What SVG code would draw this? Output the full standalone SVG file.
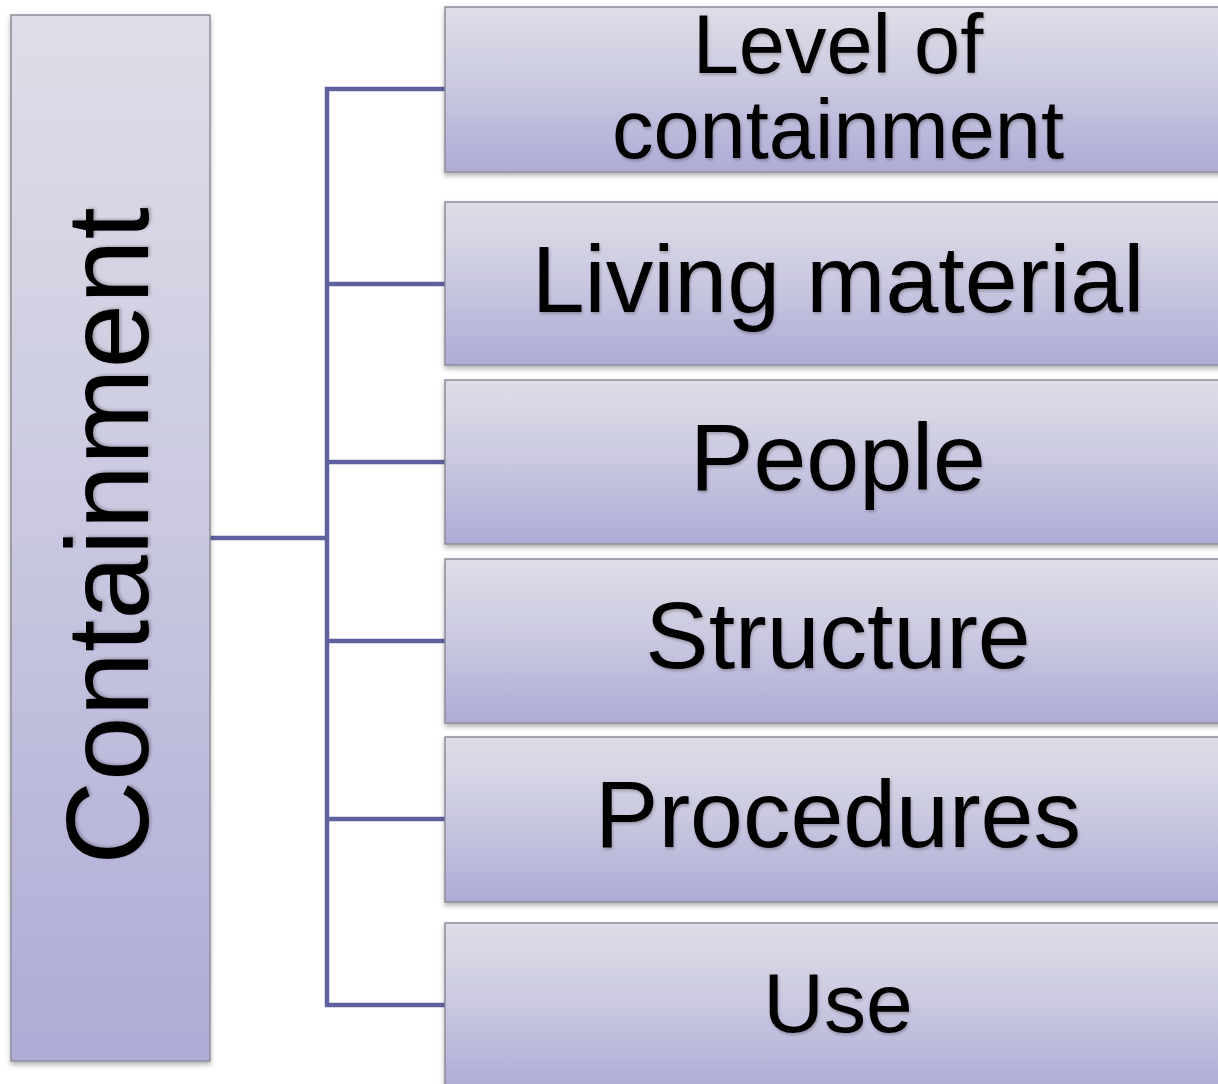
<svg xmlns="http://www.w3.org/2000/svg" width="1218" height="1084" viewBox="0 0 1218 1084">
  <style>
    .box { fill: url(#boxGrad); stroke: #8c8c98; stroke-width: 1.5; filter: url(#shadow); }
    .lbl { font-family: "Liberation Sans", Arial, sans-serif; fill: #000; text-anchor: middle; filter: url(#tshadow); }
    .conn { fill: none; stroke: #5e619e; stroke-width: 4.5; stroke-linejoin: miter; }
  </style>
  <defs>
    <linearGradient id="boxGrad" x1="0" y1="0" x2="0" y2="1">
      <stop offset="0" stop-color="#dedee8"/>
      <stop offset="0.5" stop-color="#c9c8e0"/>
      <stop offset="1" stop-color="#aeabd6"/>
    </linearGradient>
    <filter id="shadow" x="-5%" y="-5%" width="110%" height="115%">
      <feDropShadow dx="0" dy="3" stdDeviation="2.5" flood-color="#000" flood-opacity="0.3"/>
    </filter>
    <filter id="tshadow" x="-10%" y="-30%" width="120%" height="160%">
      <feDropShadow dx="1" dy="2" stdDeviation="1.5" flood-color="#000" flood-opacity="0.25"/>
    </filter>
  </defs>
  <rect width="1218" height="1084" fill="#ffffff"/>

  <g id="connectors">
    <path class="conn" d="M210 538 H327"/>
    <path class="conn" d="M445 89 H327 V1005 H445"/>
    <path class="conn" d="M327 284 H445"/>
    <path class="conn" d="M327 462 H445"/>
    <path class="conn" d="M327 641 H445"/>
    <path class="conn" d="M327 819 H445"/>
  </g>

  <g id="containment">
    <rect class="box" x="11" y="15" width="199" height="1046"/>
    <text class="lbl" font-size="116" transform="translate(148,536) rotate(-90)">Containment</text>
  </g>

  <g id="level">
    <rect class="box" x="445" y="7" width="790" height="165"/>
    <text class="lbl" font-size="83" x="838" y="73">Level of</text>
    <text class="lbl" font-size="83" x="838" y="158">containment</text>
  </g>

  <g id="living">
    <rect class="box" x="445" y="202" width="790" height="163"/>
    <text class="lbl" font-size="95" x="838" y="312">Living material</text>
  </g>

  <g id="people">
    <rect class="box" x="445" y="380" width="790" height="164"/>
    <text class="lbl" font-size="95" x="838" y="490">People</text>
  </g>

  <g id="structure">
    <rect class="box" x="445" y="559" width="790" height="164"/>
    <text class="lbl" font-size="95" x="838" y="668">Structure</text>
  </g>

  <g id="procedures">
    <rect class="box" x="445" y="737" width="790" height="165"/>
    <text class="lbl" font-size="95" x="838" y="847">Procedures</text>
  </g>

  <g id="use">
    <rect class="box" x="445" y="923" width="790" height="166"/>
    <text class="lbl" font-size="84" x="838" y="1032">Use</text>
  </g>
</svg>
